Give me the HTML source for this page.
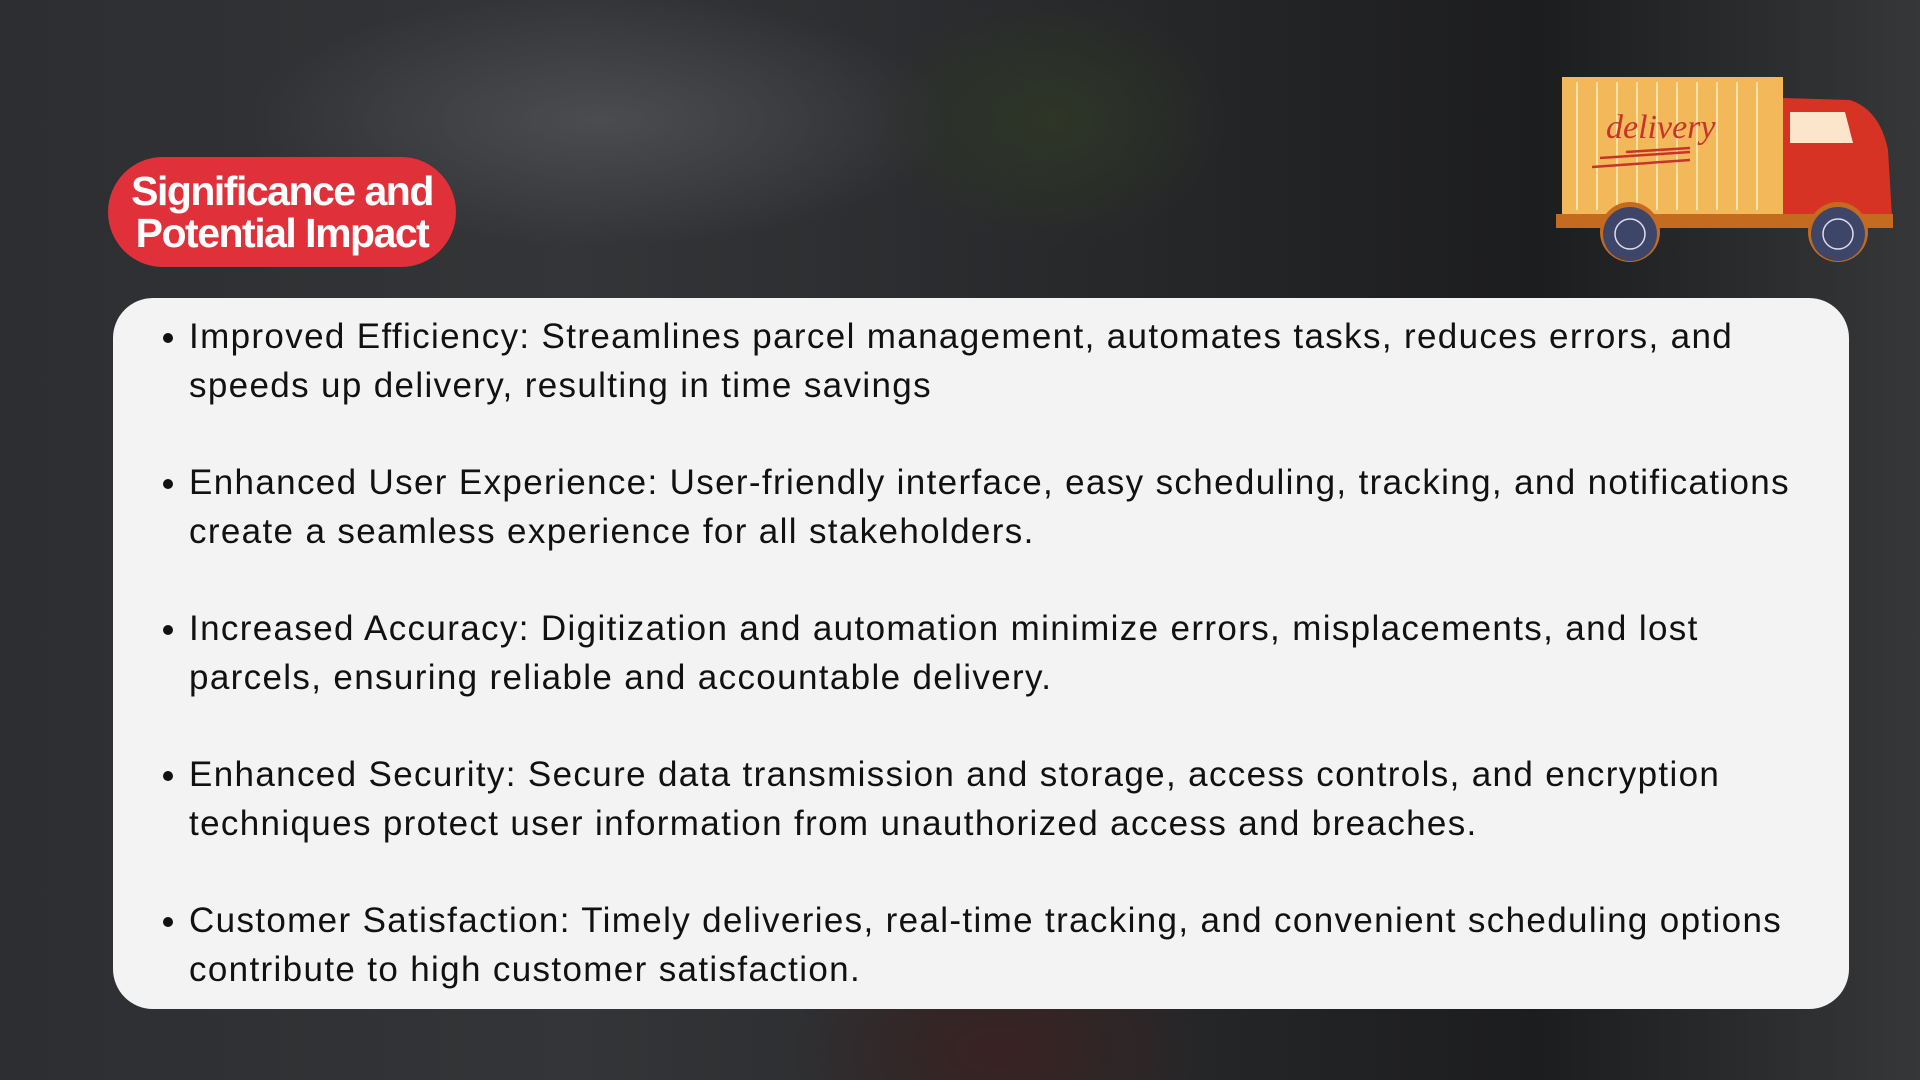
<!DOCTYPE html>
<html><head><meta charset="utf-8"><style>
html,body{margin:0;padding:0}
body{width:1920px;height:1080px;position:relative;overflow:hidden;
background:
radial-gradient(ellipse 250px 180px at 1050px 120px,#2e3626 0%,rgba(0,0,0,0) 70%),
radial-gradient(ellipse 500px 180px at 600px 120px,#4a4c50 0%,rgba(0,0,0,0) 70%),
radial-gradient(ellipse 300px 160px at 1000px 1050px,#3a2222 0%,rgba(0,0,0,0) 70%),
linear-gradient(90deg,#2c2e31 0%,#333538 30%,#262729 60%,#1c1d1f 80%,#353739 100%);
font-family:"Liberation Sans",sans-serif}
.pill{position:absolute;left:108px;top:157px;width:348px;height:110px;background:#e0303a;border-radius:55px;color:#fff;font-weight:bold;font-size:41px;line-height:42px;letter-spacing:-1.5px;text-align:center;box-sizing:border-box;padding-top:13px}
.box{position:absolute;left:113px;top:298px;width:1736px;height:711px;background:#f3f3f3;border-radius:40px}
ul{margin:0;padding:0;list-style:none;position:absolute;left:189px;top:312px;width:1680px;color:#111;font-size:35px;line-height:49px;white-space:nowrap;letter-spacing:1.35px}
li{position:relative;margin-bottom:48px}
li:before{content:"";position:absolute;left:-26px;top:21px;width:10px;height:10px;border-radius:50%;background:#111}
</style></head><body>
<div class="pill">Significance and<br>Potential Impact</div>
<svg style="position:absolute;left:0;top:0" width="1920" height="300">
<rect x="1562" y="77" width="221" height="140" fill="#f3b85a"/>
<g stroke="#fbe3a8" stroke-width="2">
<line x1="1577" y1="82" x2="1577" y2="210"/><line x1="1597" y1="82" x2="1597" y2="210"/><line x1="1617" y1="82" x2="1617" y2="210"/><line x1="1637" y1="82" x2="1637" y2="210"/><line x1="1657" y1="82" x2="1657" y2="210"/><line x1="1677" y1="82" x2="1677" y2="210"/><line x1="1697" y1="82" x2="1697" y2="210"/><line x1="1717" y1="82" x2="1717" y2="210"/><line x1="1737" y1="82" x2="1737" y2="210"/><line x1="1757" y1="82" x2="1757" y2="210"/></g>
<text x="1606" y="138" font-family="Liberation Serif,serif" font-style="italic" font-size="34" fill="#c8332a">delivery</text>
<g stroke="#c8332a" stroke-width="2.5"><line x1="1592" y1="167" x2="1690" y2="160"/><line x1="1600" y1="158" x2="1690" y2="152"/><line x1="1626" y1="152" x2="1690" y2="148"/></g>
<path d="M1783 98 L1850 100 Q1880 110 1888 150 L1892 217 L1783 217 Z" fill="#d63325"/>
<path d="M1790 112 L1845 112 L1853 143 L1790 143 Z" fill="#fbe6cc"/>
<rect x="1556" y="214" width="337" height="14" fill="#c56b1f"/>
<circle cx="1630" cy="232" r="30" fill="#c56b1f"/><circle cx="1838" cy="232" r="30" fill="#c56b1f"/>
<circle cx="1630" cy="234" r="27" fill="#3d4669"/><circle cx="1838" cy="234" r="27" fill="#3d4669"/>
<circle cx="1630" cy="234" r="15" fill="none" stroke="#dde" stroke-width="1.5"/><circle cx="1838" cy="234" r="15" fill="none" stroke="#dde" stroke-width="1.5"/>
</svg>
<div class="box"></div>
<ul>
<li>Improved Efficiency: Streamlines parcel management, automates tasks, reduces errors, and<br>speeds up delivery, resulting in time savings</li>
<li>Enhanced User Experience: User-friendly interface, easy scheduling, tracking, and notifications<br>create a seamless experience for all stakeholders.</li>
<li>Increased Accuracy: Digitization and automation minimize errors, misplacements, and lost<br>parcels, ensuring reliable and accountable delivery.</li>
<li>Enhanced Security: Secure data transmission and storage, access controls, and encryption<br>techniques protect user information from unauthorized access and breaches.</li>
<li>Customer Satisfaction: Timely deliveries, real-time tracking, and convenient scheduling options<br>contribute to high customer satisfaction.</li>
</ul>
</body></html>
